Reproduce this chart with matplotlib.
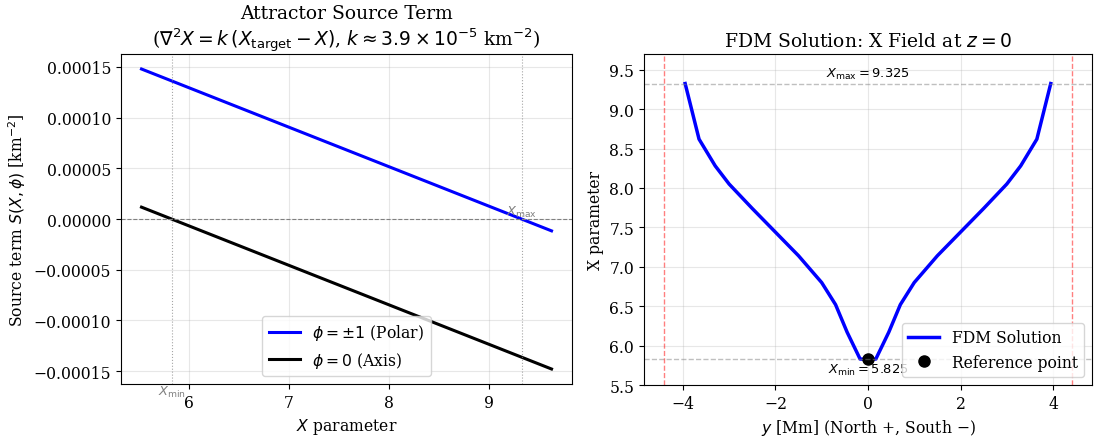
import matplotlib
matplotlib.use("Agg")
import matplotlib.pyplot as plt

plt.rcParams['font.family'] = 'DejaVu Serif'
plt.rcParams['mathtext.fontset'] = 'dejavusans'
plt.rcParams['font.size'] = 11.25

# left panel: source term vs X (straight lines, end points)
X_min = 5.825
X_max = 9.325
X_range = [5.525, 9.625]
S_polar = [1.48e-4, -1.17e-5]
S_axis = [1.17e-5, -1.48e-4]

# right panel: FDM solution along y at z=0
y_mm = [-3.95, -3.65, -3.3, -3.0, -2.5, -2.0, -1.5, -1.0, -0.7, -0.45, -0.17, 0.0,
        0.17, 0.45, 0.7, 1.0, 1.5, 2.0, 2.5, 3.0, 3.3, 3.65, 3.95]
X_sol = [9.325, 8.62, 8.28, 8.05, 7.74, 7.44, 7.14, 6.80, 6.52, 6.17, 5.83, 5.825,
         5.83, 6.17, 6.52, 6.80, 7.14, 7.44, 7.74, 8.05, 8.28, 8.62, 9.325]
y_bound = 4.4

fig = plt.figure(figsize=(10.95, 4.39), dpi=100)
ax1 = fig.add_axes([0.1105, 0.123, 0.4119, 0.7517])
ax2 = fig.add_axes([0.5881, 0.1207, 0.4091, 0.754])

ax1.plot(X_range, S_polar, color='blue', lw=2.2, label=r'$\phi = \pm 1$ (Polar)')
ax1.plot(X_range, S_axis, color='black', lw=2.2, label=r'$\phi = 0$ (Axis)')
ax1.axhline(0, color='gray', ls='--', lw=0.8)
ax1.axvline(X_min, color='gray', ls=':', lw=0.8, alpha=0.7)
ax1.axvline(X_max, color='gray', ls=':', lw=0.8, alpha=0.7)
ax1.grid(True, alpha=0.3)
ylo = ax1.get_ylim()[0]
ax1.text(X_min, ylo, r'$X_{\min}$', color='gray', fontsize=9.4, ha='center', va='top')
ax1.text(X_max, 0, r'$X_{\max}$', color='gray', fontsize=9.4, ha='center', va='bottom')
ax1.set_xlabel(r'$X$ parameter')
ax1.set_ylabel(r'Source term $S(X, \phi)$ [km$^{-2}$]')
ax1.set_title('Attractor Source Term\n' +
              r'($\nabla^2 X = k\,(X_{\mathrm{target}} - X)$, $k \approx 3.9 \times 10^{-5}$ km$^{-2}$)')
ax1.legend(loc='lower center')

ax2.plot(y_mm, X_sol, color='blue', lw=2.5, label='FDM Solution')
ax2.plot([0], [X_min], 'o', color='black', ms=8, label='Reference point')
ax2.axhline(X_max, color='gray', ls='--', lw=1, alpha=0.5)
ax2.axhline(X_min, color='gray', ls='--', lw=1, alpha=0.5)
ax2.axvline(-y_bound, color='red', ls='--', lw=1, alpha=0.5)
ax2.axvline(y_bound, color='red', ls='--', lw=1, alpha=0.5)
ax2.text(0, X_max + 0.03, r'$X_{\max} = 9.325$', fontsize=9.4, ha='center', va='bottom')
ax2.text(0, X_min - 0.03, r'$X_{\min} = 5.825$', fontsize=9.4, ha='center', va='top')
ax2.set_xlim(-1.1 * y_bound, 1.1 * y_bound)
ax2.set_ylim(5.5, 9.7)
ax2.grid(True, alpha=0.3)
ax2.set_xlabel(r'$y$ [Mm] (North +, South $-$)')
ax2.set_ylabel('X parameter')
ax2.set_title(r'FDM Solution: X Field at $z = 0$')
ax2.legend(loc='lower right')

fig.savefig('out.png', dpi=100)
